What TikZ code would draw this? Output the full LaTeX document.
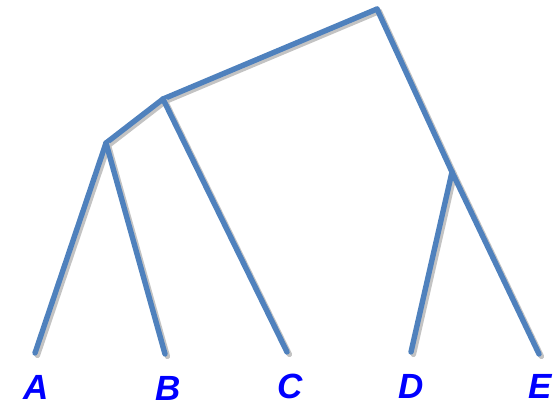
\documentclass[tikz,border=0pt]{standalone}
\usepackage{fontspec}
\setsansfont{Liberation Sans}
\definecolor{branchblue}{RGB}{79,129,189}
\definecolor{shadowgrey}{RGB}{195,195,195}
\begin{document}
\begin{tikzpicture}[x=1pt, y=-1pt, line width=5.4pt,
  branch/.style={draw=branchblue, line cap=round},
  shadow/.style={draw=shadowgrey, line cap=round},
  leaf/.style={text=blue, font=\sffamily\bfseries\itshape\fontsize{35}{40}\selectfont,
    inner sep=0pt, text depth=0pt, text height=25pt}]
  \useasboundingbox (0,0) rectangle (556,407);
  % tree points
  \coordinate (root) at (377,9);
  \coordinate (ab) at (163,99);
  \coordinate (a) at (106,143);
  \coordinate (de) at (452,172);
  \coordinate (lA) at (35,353);
  \coordinate (lB) at (165,354);
  \coordinate (lC) at (287,352);
  \coordinate (lD) at (411,352);
  \coordinate (lE) at (539,354);
  % branches, grey shadow first
  \foreach \p/\q in {root/ab, ab/a, a/lA, a/lB, ab/lC, root/de, de/lD, de/lE} {
    \draw[shadow] ([shift={(2.4,2.4)}]\p) -- ([shift={(2.4,2.4)}]\q);
    \draw[branch] (\p) -- (\q);
  }
  % leaf labels
  \node[leaf] (tA) at (36,387) {A};
  \node[leaf] (tB) at (168,388) {B};
  \node[leaf] (tC) at (290,386) {C};
  \node[leaf] (tD) at (411,386) {D};
  \node[leaf] (tE) at (540,386) {E};
\end{tikzpicture}
\end{document}
